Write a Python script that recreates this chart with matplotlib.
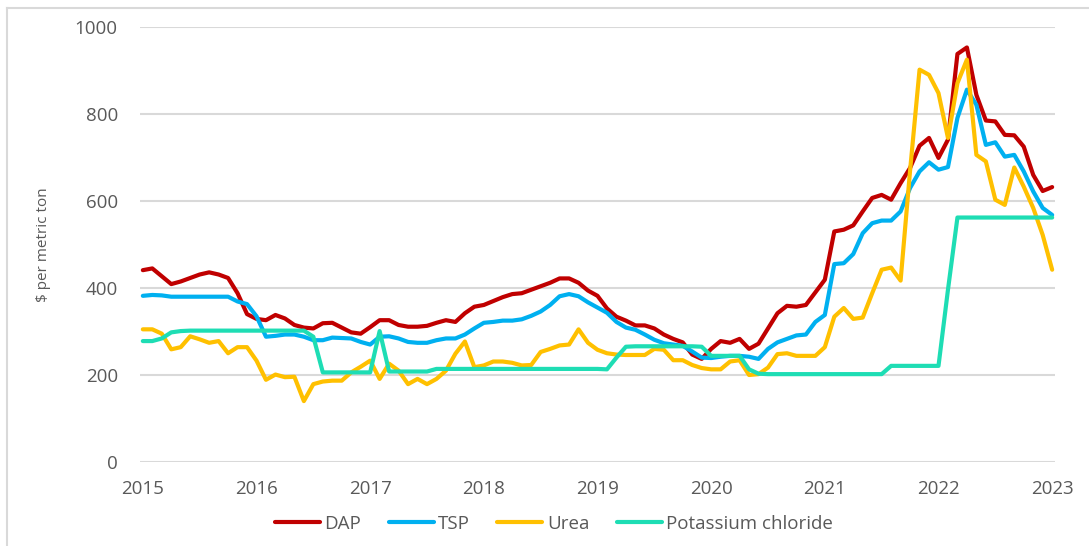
import numpy as np
import matplotlib
matplotlib.use('Agg')
import matplotlib.pyplot as plt
from matplotlib.lines import Line2D

# monthly prices, Jan 2015 .. Jan 2023 ($ per metric ton)
dap = [441, 445, 427, 409, 415, 423, 431, 436, 431, 423, 388, 340,
       329, 326, 338, 330, 315, 309, 307, 319, 320, 309, 298, 295,
       310, 326, 326, 315, 311, 311, 313, 320, 326, 322, 342, 357,
       361, 370, 379, 386, 388, 396, 404, 412, 422, 422, 412, 394,
       382, 353, 334, 325, 314, 314, 307, 293, 283, 275, 247, 237,
       260, 278, 274, 283, 260, 272, 307, 342, 359, 357, 361, 390,
       419, 530, 534, 544, 576, 607, 614, 603, 641, 676, 727, 745,
       699, 741, 938, 953, 844, 785, 783, 752, 751, 725, 660, 623,
       632]
tsp = [382, 384, 383, 380, 380, 380, 380, 380, 380, 380, 369, 363,
       335, 288, 290, 293, 293, 288, 280, 280, 286, 285, 284, 276,
       270, 288, 289, 284, 276, 274, 274, 280, 284, 284, 293, 307,
       320, 322, 325, 325, 328, 336, 346, 361, 381, 386, 381, 367,
       355, 343, 322, 309, 304, 293, 281, 273, 270, 267, 254, 240,
       239, 242, 244, 244, 242, 237, 260, 275, 283, 291, 293, 322,
       338, 455, 457, 478, 526, 549, 555, 555, 576, 630, 668, 689,
       672, 678, 791, 856, 821, 729, 735, 702, 706, 668, 622, 584,
       568]
urea = [305, 305, 295, 259, 264, 289, 282, 274, 278, 250, 264, 264,
        233, 189, 201, 195, 196, 140, 179, 185, 187, 187, 206, 219,
        233, 191, 226, 210, 179, 191, 179, 191, 210, 249, 277, 218,
        222, 231, 231, 228, 222, 223, 253, 260, 268, 270, 305, 274,
        258, 250, 247, 246, 246, 246, 260, 258, 234, 234, 223, 216,
        213, 213, 231, 234, 200, 202, 217, 248, 250, 244, 244, 244,
        264, 334, 354, 329, 332, 388, 442, 447, 417, 670, 902, 890,
        848, 745, 871, 925, 706, 691, 603, 591, 677, 633, 584, 522,
        442]
potash = [278, 278, 284, 298, 301, 302, 302, 302, 302, 302, 302, 302,
          302, 302, 302, 302, 302, 302, 288, 206, 206, 206, 206, 206,
          206, 301, 208, 208, 208, 208, 208, 214, 214, 214, 214, 214,
          214, 214, 214, 214, 214, 214, 214, 214, 214, 214, 214, 214,
          214, 213, 240, 265, 266, 266, 266, 266, 266, 266, 266, 265,
          244, 244, 244, 244, 213, 203, 202, 202, 202, 202, 202, 202,
          202, 202, 202, 202, 202, 202, 202, 221, 221, 221, 221, 221,
          221, 396, 562, 562, 562, 562, 562, 562, 562, 562, 562, 562,
          562]
years = ['2015', '2016', '2017', '2018', '2019', '2020', '2021', '2022', '2023']
names = ['DAP', 'TSP', 'Urea', 'Potassium chloride']
colors = ['#C00000', '#00B0F0', '#FFC000', '#1EDDB4']

plt.rcParams['font.family'] = ['Open Sans', 'DejaVu Sans']
txt = '#595959'

fig = plt.figure(figsize=(10.89, 5.46), dpi=100)
ax = fig.add_axes([140/1089, 1-462/546, (1055-140)/1089, (462-27)/546])

x = np.arange(len(dap))
for s, c in zip([dap, tsp, urea, potash], colors):
    ax.plot(x, s, color=c, lw=3.0, solid_joinstyle='round', solid_capstyle='round')

ax.set_ylim(0, 1000)
ax.set_xlim(-0.3, 96.3)
ax.set_yticks(range(0, 1001, 200))
ax.set_xticks(range(0, 97, 12))
ax.set_xticklabels(years)
ax.grid(axis='y', color='#D9D9D9', lw=1.5)
ax.set_axisbelow(True)
for sp in ax.spines.values():
    sp.set_visible(False)
ax.tick_params(axis='y', length=0, pad=16, labelsize=13.5, labelcolor=txt)
ax.tick_params(axis='x', length=0, pad=13, labelsize=13.5, labelcolor=txt)
ax.set_ylabel('$ per metric ton', fontsize=11, color=txt, labelpad=17)

handles = [Line2D([], [], color=c, lw=3.0, solid_capstyle='round') for c in colors]
fig.legend(handles, names, loc='center', bbox_to_anchor=(554/1089, 1-524/546),
           ncol=4, frameon=False, fontsize=13.5, handlelength=2.4, handletextpad=0.25,
           columnspacing=1.45, labelcolor=txt)

# chart area border
fig.add_artist(Line2D([7/1089, 7/1089], [0, 1-8/546], color='#D9D9D9', lw=1.5))
fig.add_artist(Line2D([7/1089, 1], [1-8/546, 1-8/546], color='#D9D9D9', lw=1.5))

fig.savefig('out.png', dpi=100)
